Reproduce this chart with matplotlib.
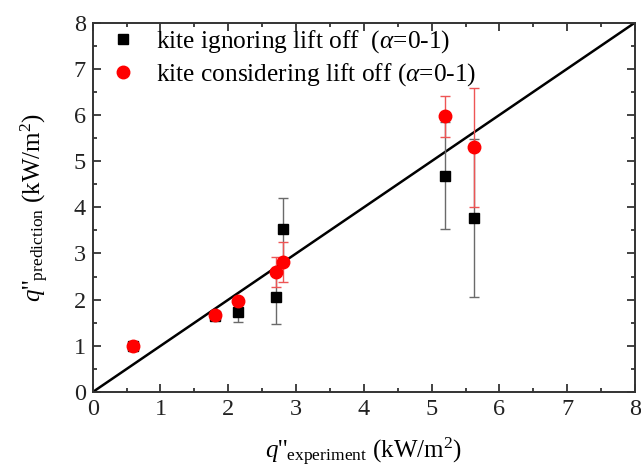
import matplotlib
matplotlib.use("Agg")
import matplotlib.pyplot as plt
from matplotlib.ticker import MultipleLocator

plt.rcParams["font.family"] = ["Liberation Serif", "DejaVu Serif"]
plt.rcParams["mathtext.fontset"] = "custom"
plt.rcParams["mathtext.rm"] = "Liberation Serif"
plt.rcParams["mathtext.it"] = "Liberation Serif:italic"

# Measured vs predicted heat flux (kW/m^2)
q_experiment = [0.6, 1.8, 2.15, 2.7, 2.8, 5.2, 5.63]

ignoring_pred = [1.0, 1.65, 1.73, 2.05, 3.53, 4.68, 3.76]
ignoring_err = [0.04, 0.04, 0.22, 0.57, 0.68, 1.16, 1.71]

considering_pred = [0.99, 1.67, 1.98, 2.60, 2.82, 5.97, 5.30]
considering_err = [0.03, 0.03, 0.05, 0.33, 0.43, 0.45, 1.29]

parity = [0, 8]

fig = plt.figure(figsize=(6.41, 4.69), dpi=100)
ax = fig.add_axes([0.1446, 0.164, 0.8462, 0.788])

ax.plot(parity, parity, color="black", lw=1.8, zorder=2)

ax.errorbar(q_experiment, ignoring_pred, yerr=ignoring_err, fmt="s",
            color="black", ms=7.5, ecolor="#6a6a6a", elinewidth=1.0,
            capsize=3.5, capthick=1.0, zorder=3,
            label=r"kite ignoring lift off  ($\alpha$=0-1)")
ax.errorbar(q_experiment, considering_pred, yerr=considering_err, fmt="o",
            color="red", ms=9, ecolor="#ee5555", elinewidth=1.0,
            capsize=3.5, capthick=1.0, zorder=4,
            label=r"kite considering lift off ($\alpha$=0-1)")

ax.set_xlim(0, 8)
ax.set_ylim(0, 8)
ax.xaxis.set_major_locator(MultipleLocator(1))
ax.yaxis.set_major_locator(MultipleLocator(1))
ax.xaxis.set_minor_locator(MultipleLocator(0.5))
ax.yaxis.set_minor_locator(MultipleLocator(0.5))
ax.tick_params(which="both", direction="in", top=True, right=True,
               width=1.2, labelsize=17.5, colors="#222222")
ax.tick_params(which="major", length=6, pad=5)
ax.tick_params(which="minor", length=3)
for s in ax.spines.values():
    s.set_linewidth(1.4)
    s.set_color("#333333")

ax.set_xlabel(r"$q$''$_{\mathrm{experiment}}$ (kW/m$^2$)", fontsize=18, labelpad=11)
ax.set_ylabel(r"$q$''$_{\mathrm{prediction}}$ (kW/m$^2$)", fontsize=18, labelpad=16)

handles, labels = ax.get_legend_handles_labels()
handles = [h[0] for h in handles]
ax.legend(handles, labels, loc="upper left", frameon=False, fontsize=18.3,
          handlelength=1.0, handletextpad=0.8, labelspacing=0.25,
          borderaxespad=0.0, bbox_to_anchor=(0.014, 1.012))

fig.savefig("out.png", dpi=100)
